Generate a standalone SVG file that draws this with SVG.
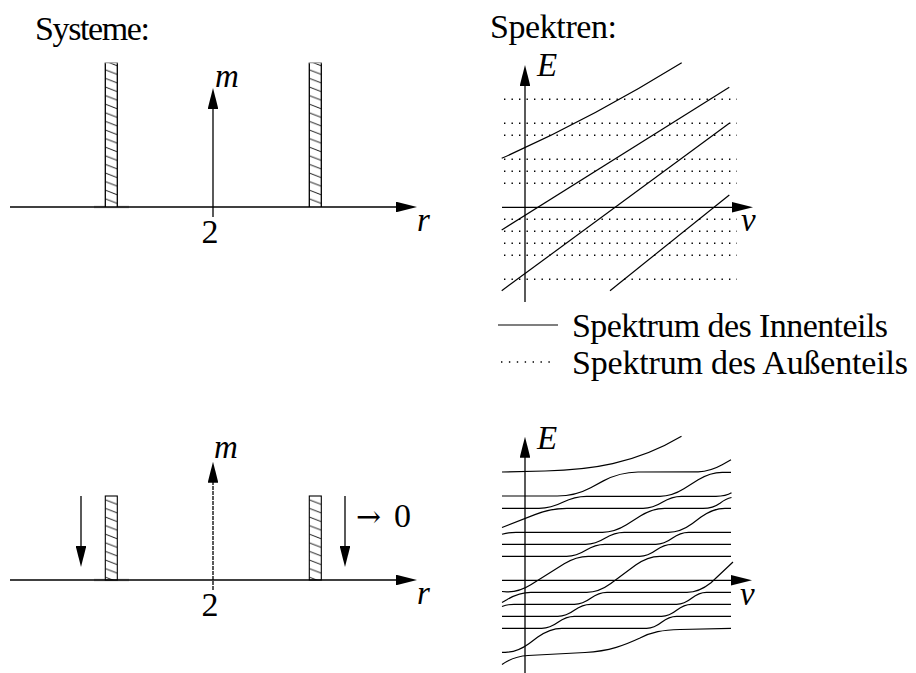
<svg xmlns="http://www.w3.org/2000/svg" width="916" height="673" viewBox="0 0 916 673">
<style>
.ax{stroke:#000;stroke-width:1.3;fill:none}
.cv{stroke:#000;stroke-width:1.2;fill:none}
.dot{stroke:#000;stroke-width:1.4;stroke-dasharray:1.4 6.1;fill:none}
.bar{fill:url(#hatch);stroke:#000;stroke-width:1.1}
.t{font-family:"Liberation Serif","Times New Roman","DejaVu Serif",serif;font-size:34px;fill:#000}
.mi{font-family:"Liberation Serif","Times New Roman","DejaVu Serif",serif;font-style:italic;font-size:33px;fill:#000}
.arr{font-family:"DejaVu Serif",serif;font-size:30px}
.dash{stroke-dasharray:4 1}
</style>
<defs>
<marker id="ah" viewBox="0 0 21 10.6" refX="11" refY="5.3" markerWidth="21" markerHeight="10.6" markerUnits="userSpaceOnUse" orient="auto">
<path d="M0,0 L21,5.3 L0,10.6 z" fill="#000" stroke="none"/>
</marker>
<pattern id="hatch" patternUnits="userSpaceOnUse" x="105.3" y="0" width="12" height="8.6">
<rect width="12" height="8.6" fill="#fff"/>
<path d="M0,1 L12,5.6" stroke="#000" stroke-width="0.9"/>
</pattern>
</defs>
<rect width="916" height="673" fill="#fff"/>

<!-- headings -->
<text class="t" x="35" y="40" textLength="115" lengthAdjust="spacing">Systeme:</text>
<text class="t" x="490" y="38" textLength="127" lengthAdjust="spacing">Spektren:</text>

<!-- top-left system -->
<g id="system-top">
<line x1="94" y1="207" x2="129" y2="207" stroke="#bbb" stroke-width="2.6"/>
<rect x="105.3" y="62.7" width="12" height="144.3" fill="url(#hatch)"/>
<path d="M105.3,207 V62.7 M117.3,62.7 V207" class="ax" stroke-width="1.1"/>
<line x1="104.8" y1="62.7" x2="117.8" y2="62.7" stroke="#aaa" stroke-width="1.3"/>
<rect x="309.3" y="62.7" width="12" height="144.3" fill="url(#hatch)"/>
<path d="M309.3,207 V62.7 M321.3,62.7 V207" class="ax" stroke-width="1.1"/>
<line x1="308.8" y1="62.7" x2="321.8" y2="62.7" stroke="#aaa" stroke-width="1.3"/>
<line class="ax" x1="10" y1="207" x2="407" y2="207" marker-end="url(#ah)"/>
<line class="ax" x1="213" y1="217" x2="213" y2="98" marker-end="url(#ah)"/>
<text class="mi" x="215" y="87">m</text>
<text class="mi" x="417" y="231">r</text>
<text class="t" x="210" y="243" text-anchor="middle">2</text>
</g>

<!-- bottom-left system -->
<g id="system-bottom">
<line x1="94" y1="580" x2="129" y2="580" stroke="#bbb" stroke-width="2.6"/>
<rect class="bar" x="105.3" y="496" width="12" height="84"/>
<rect class="bar" x="309.3" y="496" width="12" height="84"/>
<line class="ax" x1="10" y1="580" x2="407" y2="580" marker-end="url(#ah)"/>
<line class="ax dash" x1="213" y1="590" x2="213" y2="471.7" marker-end="url(#ah)"/>
<line class="ax" x1="81" y1="496" x2="81" y2="557" marker-end="url(#ah)"/>
<line class="ax" x1="345" y1="496" x2="345" y2="557" marker-end="url(#ah)"/>
<text class="mi" x="214" y="458">m</text>
<text class="mi" x="417" y="604">r</text>
<text class="t" x="210" y="616" text-anchor="middle">2</text>
<text class="t" x="356" y="527"><tspan class="arr">→</tspan> <tspan x="394">0</tspan></text>
</g>

<!-- top spectrum -->
<g id="spectrum-top">
<g id="outer-levels">
<path class="dot" d="M504,99.3 H737 M504,123.3 H737 M504,135.3 H737 M504,159.3 H737 M504,171.3 H737 M504,183.3 H737 M504,219.3 H737 M504,231.3 H737 M504,243.3 H737 M504,255.3 H737 M504,279.3 H737"/>
</g>
<line class="ax" x1="525" y1="302" x2="525" y2="75" marker-end="url(#ah)"/>
<line class="ax" x1="502" y1="207.3" x2="743" y2="207.3" marker-end="url(#ah)"/>
<g id="inner-lines">
<path class="cv" d="M501.7,158.3 Q591.7,118.3 681.7,62.7"/>
<path class="cv" d="M501.7,230 L729.3,87.3"/>
<path class="cv" d="M501.7,290.7 L729.3,123.3"/>
<path class="cv" d="M610,290.7 L729.3,195"/>
</g>
<text class="mi" x="537" y="76">E</text>
<text class="mi" x="741" y="231">v</text>
</g>

<!-- legend -->
<g id="legend">
<line class="cv" x1="498" y1="325" x2="558" y2="325"/>
<text class="t" x="572" y="337" textLength="316" lengthAdjust="spacing">Spektrum des Innenteils</text>
<line class="dot" x1="501" y1="362" x2="556" y2="362" style="stroke-dasharray:1.4 6.5"/>
<text class="t" x="572" y="374" textLength="336" lengthAdjust="spacing">Spektrum des Außenteils</text>
</g>

<!-- bottom spectrum -->
<g id="spectrum-bottom">
<line class="ax" x1="525" y1="673" x2="525" y2="446.7" marker-end="url(#ah)"/>
<line class="ax" x1="502" y1="580.3" x2="742" y2="580.3" marker-end="url(#ah)"/>
<g id="coupled-levels">
<path class="cv" d="M502,472 L545,471 C590,470 635,464 681.5,436.3"/>
<path class="cv" d="M502,496 L556,496 Q574.7,496.3 590.7,487.7 L603.4,480.9 Q619.4,472.3 638,472 L698.2,471.8 Q710.2,471.5 722.2,464.8 L731,459.8"/>
<path class="cv" d="M502,508.3 L539,508.3 Q550.9,508.3 562.8,502.3 Q574.7,496.3 586.6,496.3 L659.9,496.3 Q671.9,496.3 683.9,488.8 L698.2,479.8 Q710.2,472.3 722.2,472.3 L731,472.3"/>
<path class="cv" d="M502,527.5 L534.9,514.6 Q550.9,508.3 566.9,508.3 L643.1,508.3 Q652.7,508.3 662.3,502.3 Q671.9,496.3 681.5,496.3 L716,496.3 Q726,496.3 731.5,492.8"/>
<path class="cv" d="M502,534.3 Q508,532.3 516,532.3 L602.5,532.3 Q614.5,532.3 626.5,524.8 L640.7,515.8 Q652.7,508.3 664.7,508.3 L703,508.3 Q713,508.3 720,503.2 Q726,498.5 731.5,497.5"/>
<path class="cv" d="M502,544.3 L585.7,544.3 Q595.3,544.3 604.9,538.3 Q614.5,532.3 624.1,532.3 L668.4,532.3 Q680.4,532.3 692.4,523.5 L701,517.1 Q713,508.3 725,508.3 L731,508.3"/>
<path class="cv" d="M502,556.3 L566.7,556.3 Q576.2,556.3 585.8,550.3 Q595.3,544.3 604.9,544.3 L655.8,544.3 Q664,544.3 672.2,538.3 Q680.4,532.3 688.6,532.3 L731,532.3"/>
<path class="cv" d="M502,591.5 L506.8,591.8 Q518.8,592.3 530.8,584.8 L564.2,563.8 Q576.2,556.3 588.2,556.3 L639.6,556.3 Q647.7,556.3 655.9,550.3 Q664,544.3 672.2,544.3 L731,544.3"/>
<path class="cv" d="M502,602.5 L506.8,599.8 Q518.8,592.3 530.8,592.3 L586.8,592.3 Q598.8,592.3 610.8,583.5 L635.7,565.1 Q647.7,556.3 659.7,556.3 L731,556.3"/>
<path class="cv" d="M502,606.5 Q507,604.3 514,604.3 L574.4,604.3 Q582.5,604.3 590.7,598.3 Q598.8,592.3 607,592.3 L687,592.3 Q699,592.3 711,582.7 L733,562"/>
<path class="cv" d="M502,616.3 L557.9,616.3 Q566.1,616.3 574.3,610.3 Q582.5,604.3 590.7,604.3 L676.7,604.3 Q684.1,604.3 691.6,598.3 Q699,592.3 706.5,592.3 L731,592.3"/>
<path class="cv" d="M502,628.3 L541.7,628.3 Q549.8,628.3 558,622.3 Q566.1,616.3 574.3,616.3 L661.6,616.3 Q669.1,616.3 676.6,610.3 Q684.1,604.3 691.6,604.3 L731,604.3"/>
<path class="cv" d="M502,652.3 L505.2,652.3 Q517.2,652.3 529.2,643.5 L537.8,637.1 Q549.8,628.3 561.8,628.3 L646.6,628.3 Q654.1,628.3 661.6,622.3 Q669.1,616.3 676.6,616.3 L731,616.3"/>
<path class="cv" d="M502,664.5 Q513,656.5 528,655.5 L585,652.5 C610,651 625,645 640,638 C652,632 662,630 680,629.5 L731,628.3"/>
</g>
<text class="mi" x="537" y="449">E</text>
<text class="mi" x="740" y="605">v</text>
</g>
</svg>
